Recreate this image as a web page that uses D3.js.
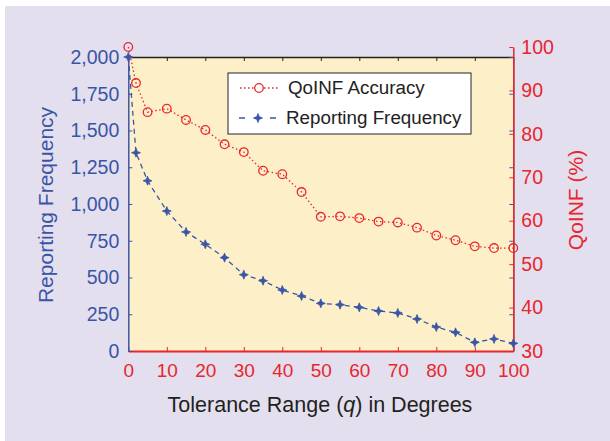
<!DOCTYPE html>
<html><head><meta charset="utf-8">
<script src="https://cdn.jsdelivr.net/npm/d3@7"></script>
<style>body{margin:0;background:#fff}svg{display:block}</style>
</head><body><svg id="c" width="610" height="441"></svg>
<script>
const tolerance = [0,2,5,10,15,20,25,30,35,40,45,50,55,60,65,70,75,80,85,90,95,100];
const accuracy = [100,91.7,85,85.8,83.2,80.9,77.6,75.8,71.5,70.7,66.6,60.9,61,60.6,59.8,59.6,58.4,56.6,55.5,54.1,53.7,53.7];
const frequency = [2000,1349,1158,952,810,726,635,519,478,415,374,324,315,297,272,259,218,163,127,59,82,52];
const xTicks = [0,10,20,30,40,50,60,70,80,90,100];
const leftTicks = [0,250,500,750,1000,1250,1500,1750,2000];
const rightTicks = [30,40,50,60,70,80,90,100];

const BLUE = "#3a55a6", RED = "#e8262d", FONT = "'Liberation Sans', Arial, sans-serif";
const svg = d3.select("#c");
svg.append("rect").attr("x",5).attr("y",6).attr("width",605).attr("height",435).attr("fill","#e3dfee");

const L = 128.3, R = 513.3, T = 57, B = 351;
const x = d3.scaleLinear().domain([0,100]).range([L,R]);
const yL = d3.scaleLinear().domain([0,2000]).range([B,T]);
const yR = d3.scaleLinear().domain([30,100]).range([B,47]);

svg.append("rect").attr("x",L).attr("y",T).attr("width",R-L).attr("height",B-T).attr("fill","#fdf0c9");

function styleAxis(g, color, fs){
  g.select(".domain").attr("stroke", color).attr("stroke-width",1.5);
  g.selectAll(".tick line").attr("stroke", color).attr("stroke-width",1);
  g.selectAll(".tick text").attr("fill", color).attr("font-family",FONT).attr("font-size",fs);
}
const gTop = svg.append("g").attr("transform",`translate(0,${T})`)
  .call(d3.axisBottom(x).tickValues(xTicks).tickSizeOuter(0).tickSizeInner(4).tickFormat(""));
styleAxis(gTop,"#222",0);
const gB = svg.append("g").attr("transform",`translate(0,${B})`)
  .call(d3.axisTop(x).tickValues(xTicks).tickSizeOuter(0).tickSizeInner(4).tickFormat(""));
styleAxis(gB,RED,0);
gB.select(".domain").attr("stroke-width",2);
const gBL = svg.append("g").attr("transform",`translate(0,${B})`)
  .call(d3.axisBottom(x).tickValues(xTicks).tickSize(0).tickPadding(13).tickFormat(d3.format("d")));
gBL.select(".domain").remove();
styleAxis(gBL,RED,"19px");

const gL = svg.append("g").attr("transform",`translate(${L},0)`)
  .call(d3.axisRight(yL).tickValues(leftTicks).tickSizeOuter(0).tickSizeInner(4).tickFormat(""));
styleAxis(gL,BLUE,0);
const gLL = svg.append("g").attr("transform",`translate(${L},0)`)
  .call(d3.axisLeft(yL).tickValues(leftTicks).tickSize(0).tickPadding(9).tickFormat(d3.format(",")));
gLL.select(".domain").remove();
styleAxis(gLL,BLUE,"19.5px");
const gLR = svg.append("g").attr("transform",`translate(${R},0)`)
  .call(d3.axisLeft(yL).tickValues(leftTicks).tickSizeOuter(0).tickSizeInner(4).tickFormat(""));
styleAxis(gLR,BLUE,0);
gLR.select(".domain").attr("stroke","#5a6a9a");

const gR = svg.append("g").attr("transform",`translate(${R},0)`)
  .call(d3.axisLeft(yR).tickValues(rightTicks).tickSizeOuter(0).tickSizeInner(4).tickFormat(""));
styleAxis(gR,RED,0);
const gRL = svg.append("g").attr("transform",`translate(${R},0)`)
  .call(d3.axisRight(yR).tickValues(rightTicks).tickSize(0).tickPadding(8).tickFormat(d3.format("d")));
gRL.select(".domain").remove();
styleAxis(gRL,RED,"19.5px");

const lineF = d3.line().x((d,i)=>x(tolerance[i])).y(d=>yL(d));
const lineA = d3.line().x((d,i)=>x(tolerance[i])).y(d=>yR(d));
svg.append("path").datum(frequency).attr("d",lineF).attr("fill","none")
  .attr("stroke",BLUE).attr("stroke-width",1.3).attr("stroke-dasharray","5,4");
svg.append("path").datum(accuracy).attr("d",lineA).attr("fill","none")
  .attr("stroke",RED).attr("stroke-width",1.3).attr("stroke-dasharray","1.5,2.5");

// four-pointed star marker
const starPath = "M0,-4.5L1.3,-1.3L4.5,0L1.3,1.3L0,4.5L-1.3,1.3L-4.5,0L-1.3,-1.3Z";
svg.selectAll(".fm").data(frequency).join("path").attr("class","fm")
  .attr("transform",(d,i)=>`translate(${x(tolerance[i])},${yL(d)})`)
  .attr("d",starPath).attr("fill",BLUE).attr("stroke",BLUE).attr("stroke-width",0.8);
svg.selectAll(".am").data(accuracy).join("circle").attr("class","am")
  .attr("cx",(d,i)=>x(tolerance[i])).attr("cy",d=>yR(d)).attr("r",4.3)
  .attr("fill","none").attr("stroke",RED).attr("stroke-width",1.3);

const lg = svg.append("g");
lg.append("rect").attr("x",228).attr("y",73).attr("width",243).attr("height",61)
  .attr("fill","#fff").attr("stroke","#222").attr("stroke-width",1);
lg.append("line").attr("x1",240).attr("x2",278).attr("y1",88).attr("y2",88)
  .attr("stroke",RED).attr("stroke-width",1.3).attr("stroke-dasharray","1.5,2.5");
lg.append("circle").attr("cx",259).attr("cy",88).attr("r",4.3).attr("fill","#fff").attr("stroke",RED).attr("stroke-width",1.3);
lg.append("line").attr("x1",239).attr("x2",277).attr("y1",118).attr("y2",118)
  .attr("stroke",BLUE).attr("stroke-width",1.3).attr("stroke-dasharray","6,9.5");
lg.append("path").attr("transform","translate(258,118)").attr("d",starPath).attr("fill",BLUE).attr("stroke",BLUE).attr("stroke-width",0.8);
lg.append("text").attr("x",288).attr("y",94).text("QoINF Accuracy")
  .attr("font-family",FONT).attr("font-size","18.8px").attr("fill","#222");
lg.append("text").attr("x",286).attr("y",124).text("Reporting Frequency")
  .attr("font-family",FONT).attr("font-size","18.8px").attr("fill","#222");

svg.append("text").attr("x",320).attr("y",412).attr("text-anchor","middle")
  .attr("font-family",FONT).attr("font-size","21.5px").attr("fill","#231f20")
  .html('Tolerance Range (<tspan font-style="italic">q</tspan>) in Degrees');
svg.append("text").attr("transform","translate(53,205) rotate(-90)").attr("text-anchor","middle")
  .attr("font-family",FONT).attr("font-size","21px").attr("fill",BLUE).text("Reporting Frequency");
svg.append("text").attr("transform","translate(583,200) rotate(-90)").attr("text-anchor","middle")
  .attr("font-family",FONT).attr("font-size","21px").attr("fill",RED).text("QoINF (%)");
</script></body></html>
